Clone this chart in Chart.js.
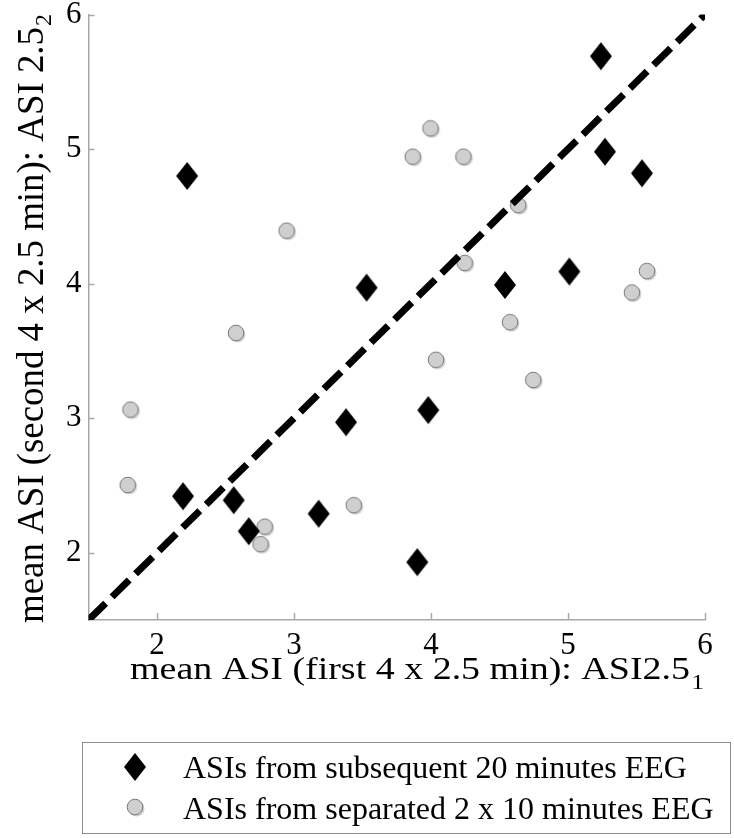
<!DOCTYPE html>
<html>
<head>
<meta charset="utf-8">
<script src="https://cdn.jsdelivr.net/npm/chart.js@4/dist/chart.umd.min.js"></script>
<style>
  html, body { margin: 0; padding: 0; background: #fff; }
  #wrap { width: 734px; height: 838px; }
</style>
</head>
<body>
<div id="wrap"><canvas id="chart" width="734" height="838"></canvas></div>
<script>
// data
const diamondX = [2.22, 3.53, 5.24, 5.27, 5.54, 4.54, 5.01, 2.19, 2.56, 2.67, 3.18, 3.38, 3.98, 3.90]
const diamondY = [4.80, 3.97, 5.69, 4.98, 4.82, 3.99, 4.09, 2.42, 2.39, 2.16, 2.29, 2.97, 3.06, 1.93]
const circleX = [2.95, 2.58, 4.00, 3.87, 4.24, 4.64, 4.25, 5.58, 5.47, 4.58, 1.81, 1.79, 2.79, 2.76, 3.44, 4.04, 4.75]
const circleY = [4.39, 3.63, 5.15, 4.94, 4.94, 4.58, 4.15, 4.09, 3.93, 3.71, 3.06, 2.50, 2.19, 2.06, 2.35, 3.43, 3.28]
const lineX = [1.5, 6]
const lineY = [1.5, 6]
const xTicks = [2, 3, 4, 5, 6]
const yTicks = [2, 3, 4, 5, 6]
const seriesLabels = ['ASIs from subsequent 20 minutes EEG', 'ASIs from separated 2 x 10 minutes EEG']
const xTitle = 'mean ASI (first 4 x 2.5 min): ASI2.5'
const xSub = '1'
const yTitle = 'mean ASI (second 4 x 2.5 min): ASI 2.5'
const ySub = '2'

const SERIF = '"Liberation Serif", "Times New Roman", serif'
const AXIS_GRAY = '#a8a8a8'

function makeDiamond() {
  const c = document.createElement('canvas')
  c.width = 24; c.height = 30
  const g = c.getContext('2d')
  g.fillStyle = '#000'
  g.beginPath()
  g.moveTo(12, 1); g.lineTo(23, 15); g.lineTo(12, 29); g.lineTo(1, 15)
  g.closePath(); g.fill()
  return c
}

function makeCircle() {
  const c = document.createElement('canvas')
  c.width = 21; c.height = 21
  const g = c.getContext('2d')
  g.fillStyle = 'rgba(0,0,0,0.18)'
  g.beginPath(); g.arc(11.5, 11.5, 8, 0, Math.PI * 2); g.fill()
  g.fillStyle = '#cfcfcf'
  g.strokeStyle = '#7a7a7a'
  g.lineWidth = 1
  g.beginPath(); g.arc(10, 10, 7.8, 0, Math.PI * 2); g.fill(); g.stroke()
  return c
}

const diamondImg = makeDiamond()
const circleImg = makeCircle()

const toPoints = (xs, ys) => xs.map((x, i) => ({ x: x, y: ys[i] }))

// inward tick marks, axis titles with subscripts, boxed legend
const extras = {
  id: 'extras',
  afterDraw(chart) {
    const ctx = chart.ctx
    const xs = chart.scales.x, ys = chart.scales.y
    ctx.save()
    ctx.strokeStyle = AXIS_GRAY
    ctx.lineWidth = 1.5
    xTicks.forEach(v => {
      const px = Math.round(xs.getPixelForValue(v)) + 0.5
      ctx.beginPath(); ctx.moveTo(px, xs.top); ctx.lineTo(px, xs.top - 7); ctx.stroke()
    })
    yTicks.forEach(v => {
      const py = Math.round(ys.getPixelForValue(v)) + 0.5
      ctx.beginPath(); ctx.moveTo(ys.right, py); ctx.lineTo(ys.right + 6, py); ctx.stroke()
    })

    ctx.fillStyle = '#000'
    ctx.textBaseline = 'alphabetic'
    ctx.textAlign = 'left'
    // x title, stretched a little sideways like the original
    ctx.save()
    ctx.font = '31px ' + SERIF
    const xw = ctx.measureText(xTitle).width
    ctx.translate(130, 679)
    ctx.scale(560 / xw, 1)
    ctx.fillText(xTitle, 0, 0)
    ctx.font = '21px ' + SERIF
    ctx.fillText(xSub, xw + 1, 10)
    ctx.restore()
    // y title
    ctx.save()
    ctx.translate(43, 623)
    ctx.rotate(-Math.PI / 2)
    ctx.font = '37px ' + SERIF
    const yw = ctx.measureText(yTitle).width
    ctx.scale(596 / yw, 1)
    ctx.fillText(yTitle, 0, 0)
    ctx.font = '24px ' + SERIF
    ctx.fillText(ySub, yw + 1, 8)
    ctx.restore()

    // legend
    ctx.strokeStyle = '#8c8c8c'
    ctx.lineWidth = 1
    ctx.strokeRect(82.5, 742.5, 648, 91)
    ctx.drawImage(diamondImg, 135 - 12, 767 - 15)
    ctx.drawImage(circleImg, 135 - 10, 807 - 10)
    ctx.font = '32px ' + SERIF
    ctx.fillText(seriesLabels[0], 183, 778)
    ctx.fillText(seriesLabels[1], 183, 819)
    ctx.restore()
  }
}

new Chart(document.getElementById('chart'), {
  type: 'scatter',
  data: {
    datasets: [
      {
        label: seriesLabels[0],
        data: toPoints(diamondX, diamondY),
        pointStyle: diamondImg,
        order: 2
      },
      {
        label: seriesLabels[1],
        data: toPoints(circleX, circleY),
        pointStyle: circleImg,
        order: 3
      },
      {
        label: 'y = x',
        data: toPoints(lineX, lineY),
        showLine: true,
        pointRadius: 0,
        borderColor: '#000',
        borderWidth: 7,
        borderDash: [24, 9],
        borderCapStyle: 'butt',
        order: 1
      }
    ]
  },
  options: {
    responsive: false,
    animation: false,
    devicePixelRatio: 1,
    layout: { padding: { top: 0, right: 29, left: 0, bottom: 0 } },
    plugins: {
      legend: { display: false },
      tooltip: { enabled: false }
    },
    scales: {
      x: {
        type: 'linear',
        min: 1.5,
        max: 6,
        afterBuildTicks: s => { s.ticks = xTicks.map(v => ({ value: v })) },
        afterFit: s => { s.height = 218 },
        grid: { drawOnChartArea: false, drawTicks: false },
        border: { display: true, color: AXIS_GRAY, width: 1.5 },
        ticks: { color: '#000', padding: 7, font: { family: SERIF, size: 31 } }
      },
      y: {
        type: 'linear',
        min: 1.5,
        max: 6,
        afterBuildTicks: s => { s.ticks = yTicks.map(v => ({ value: v })) },
        afterFit: s => { s.width = 88.5 },
        grid: { drawOnChartArea: false, drawTicks: false },
        border: { display: true, color: AXIS_GRAY, width: 1.5 },
        ticks: { color: '#000', padding: 7, font: { family: SERIF, size: 31, lineHeight: 0.484 } }
      }
    }
  },
  plugins: [extras]
})
</script>
</body>
</html>
